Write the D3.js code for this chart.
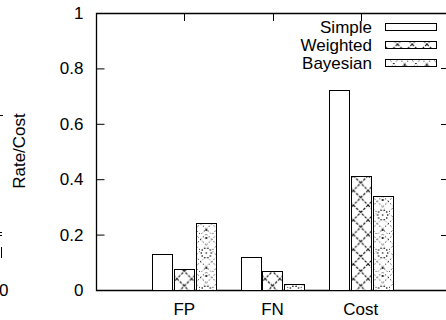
<!DOCTYPE html>
<html lang="en">
<head>
<meta charset="UTF-8">
<title>Rate/Cost histogram</title>
<script src="https://cdnjs.cloudflare.com/ajax/libs/d3/7.8.5/d3.min.js"></script>
<style>
  body { margin: 0; background: white; overflow: hidden; }
  svg { display: block; font-family: "Liberation Sans", Arial, sans-serif; }
</style>
</head>
<body>
<div id="chart"></div>
<script>
  // values
  const categories = ["FP", "FN", "Cost"];
  const series = ["Simple", "Weighted", "Bayesian"];
  const simple = [0.129, 0.120, 0.721];
  const weighted = [0.076, 0.069, 0.410];
  const bayesian = [0.243, 0.020, 0.339];
  const yTicks = [0, 0.2, 0.4, 0.6, 0.8, 1];

  const values = [simple, weighted, bayesian];
  const W = 446, H = 320;
  const plotLeft = 96, plotTop = 13, plotBottom = 290;
  const step = 88.25; // distance between groups

  const svg = d3.select("#chart").append("svg")
      .attr("width", W).attr("height", H);

  const y = d3.scaleLinear().domain([0, 1]).range([plotBottom, plotTop]);
  const x = d3.scalePoint().domain(categories)
      .range([plotLeft + step, plotLeft + 3 * step]);
  const plotRight = plotLeft + 4 * step;
  const inner = d3.scaleBand().domain(series).range([-32, 32]).paddingInner(0.09);

  // fill patterns
  const defs = svg.append("defs");
  const pw = step / 6;
  const wp = defs.append("pattern").attr("id", "pat-weighted")
      .attr("patternUnits", "userSpaceOnUse")
      .attr("width", pw).attr("height", pw)
      .attr("x", x("FP") - pw / 2).attr("y", plotBottom - 4 - pw / 2);
  wp.append("rect").attr("width", pw).attr("height", pw).attr("fill", "white");
  wp.append("path")
      .attr("d", `M0,0L${pw},${pw}M${pw},0L0,${pw}`)
      .attr("stroke", "black").attr("stroke-width", 1.1)
      .attr("stroke-dasharray", "2.6,1.4");

  const bw = step / 4, bh = 38;
  const bp = defs.append("pattern").attr("id", "pat-bayes")
      .attr("patternUnits", "userSpaceOnUse")
      .attr("width", bw).attr("height", bh)
      .attr("x", x("FP") + inner("Bayesian") + inner.bandwidth() / 2 - bw / 2)
      .attr("y", 253 - bh / 2);
  bp.append("rect").attr("width", bw).attr("height", bh).attr("fill", "white");
  d3.range(10).forEach(i => {
    const a = i / 10 * 2 * Math.PI;
    bp.append("circle")
        .attr("cx", bw / 2 + 5 * Math.cos(a)).attr("cy", bh / 2 + 5 * Math.sin(a))
        .attr("r", 0.8).attr("fill", "black");
  });
  bp.append("circle").attr("cx", bw / 2).attr("cy", bh / 2).attr("r", 0.8).attr("fill", "black");
  // fine dashed lattice
  const q = bw / 2;
  let lat = "";
  for (let k = -4; k <= 8; k++) {
    lat += `M${k * q},0L${k * q + bh},${bh}M${k * q},0L${k * q - bh},${bh}`;
  }
  bp.append("path").attr("d", lat)
      .attr("stroke", "black").attr("stroke-width", 0.9)
      .attr("stroke-dasharray", "1.3,2.2").attr("fill", "none");
  // blank disc around the ring so the ring reads clearly
  bp.insert("circle", "circle").attr("cx", bw / 2).attr("cy", bh / 2).attr("r", 7)
      .attr("fill", "white");
  bp.selectAll("circle").filter(function() { return +this.getAttribute("r") === 7; }).raise();
  bp.selectAll("circle").filter(function() { return +this.getAttribute("r") < 1; }).raise();
  [[0, 0], [bw, 0], [0, bh], [bw, bh], [bw / 2, 4], [bw / 2, bh - 4]]
    .forEach(p => bp.append("circle").attr("cx", p[0]).attr("cy", p[1])
        .attr("r", 1.1).attr("fill", "black"));

  const fills = { Simple: "white", Weighted: "url(#pat-weighted)", Bayesian: "url(#pat-bayes)" };

  // frame (top border and left axis line)
  svg.append("path")
      .attr("d", `M${plotRight},${plotTop + 0.5}H${plotLeft + 0.5}V${plotBottom + 0.5}H${plotRight}`)
      .attr("fill", "none").attr("stroke", "black").attr("stroke-width", 1.3);

  // left axis
  const yAxis = d3.axisLeft(y).tickValues(yTicks)
      .tickFormat(d3.format("~g")).tickSizeInner(-8).tickSizeOuter(0).tickPadding(13);
  const ga = svg.append("g").attr("transform", `translate(${plotLeft + 0.5},0)`).call(yAxis);
  ga.select(".domain").remove();
  ga.selectAll("line").attr("stroke-width", 1);
  ga.selectAll("text").attr("font-size", 17).attr("fill", "black")
      .attr("font-family", "Liberation Sans, Arial, sans-serif");

  // right side ticks (mirror)
  svg.append("g").selectAll("line").data(yTicks.slice(1, -1)).join("line")
      .attr("x1", plotRight - 8).attr("x2", plotRight)
      .attr("y1", d => Math.round(y(d)) + 0.5).attr("y2", d => Math.round(y(d)) + 0.5)
      .attr("stroke", "black");

  // top mirrored x ticks
  svg.append("g").selectAll("line").data(categories).join("line")
      .attr("x1", d => Math.round(x(d)) + 0.5).attr("x2", d => Math.round(x(d)) + 0.5)
      .attr("y1", plotTop).attr("y2", plotTop + 8).attr("stroke", "black");

  // bars
  const groups = svg.append("g").selectAll("g").data(series).join("g");
  groups.selectAll("rect")
      .data((s, i) => categories.map((c, j) => ({ s, c, v: values[i][j] })))
      .join("rect")
      .attr("x", d => Math.round(x(d.c) + inner(d.s)) + 0.5)
      .attr("y", d => Math.round(y(d.v)) + 0.5)
      .attr("width", Math.round(inner.bandwidth()))
      .attr("height", d => Math.round(y(0)) - Math.round(y(d.v)))
      .attr("fill", d => fills[d.s])
      .attr("stroke", "black").attr("stroke-width", 1);

  // x labels
  svg.append("g").selectAll("text").data(categories).join("text")
      .attr("x", d => x(d)).attr("y", plotBottom + 25)
      .attr("text-anchor", "middle").attr("font-size", 17)
      .text(d => d);

  // y label
  svg.append("text")
      .attr("transform", `translate(25,151) rotate(-90)`)
      .attr("text-anchor", "middle").attr("font-size", 17)
      .text("Rate/Cost");

  // legend
  const leg = svg.append("g").selectAll("g").data(series).join("g")
      .attr("transform", (d, i) => `translate(0,${27 + i * 18})`);
  leg.append("text").attr("x", 372).attr("y", 6)
      .attr("text-anchor", "end").attr("font-size", 17).text(d => d);
  leg.append("rect").attr("x", 385.5).attr("y", -3.5).attr("width", 51).attr("height", 7)
      .attr("fill", d => fills[d]).attr("stroke", "black");

  // pieces of the neighbouring panel cut off at the left edge
  svg.append("text").attr("x", 8.5).attr("y", plotBottom + 6)
      .attr("text-anchor", "end").attr("font-size", 17).text("0");
  svg.append("path")
      .attr("d", "M0,115.5H3M0,232.5H2M0,235.5H2M1.5,247V258")
      .attr("stroke", "black").attr("fill", "none");
</script>
</body>
</html>
